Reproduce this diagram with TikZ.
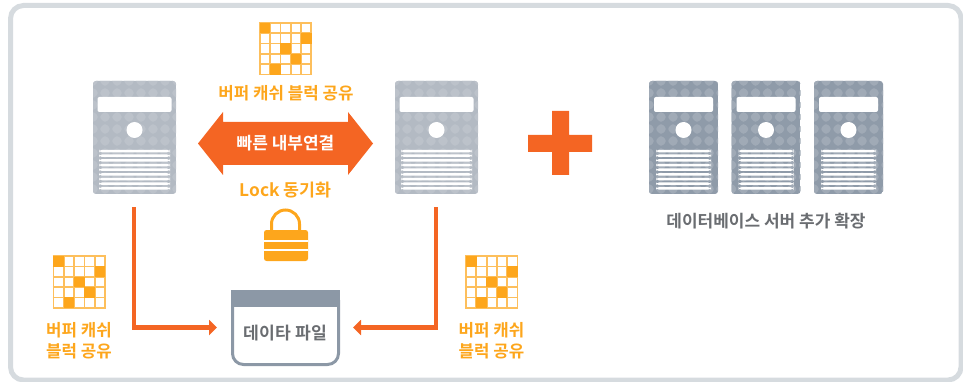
\documentclass[tikz,border=0pt]{standalone}
\usepackage{fontspec}
\setmainfont{Noto Sans CJK KR}[BoldFont={Noto Sans CJK KR Bold}]
\usetikzlibrary{calc,arrows.meta}
\definecolor{frameC}{HTML}{D6DBDF}
\definecolor{amberC}{HTML}{FDA61C}
\definecolor{amberL}{HTML}{FDBF5C}
\definecolor{orangeC}{HTML}{F46523}
\definecolor{slateC}{HTML}{8C98A6}
\definecolor{lightSrv}{HTML}{B3BAC3}
\definecolor{lightDia}{HTML}{BCC2CA}
\definecolor{darkSrv}{HTML}{8F9BA9}
\definecolor{darkDia}{HTML}{A0AAB6}
\definecolor{textC}{HTML}{6A6D71}
\newcommand{\srvpaint}[6]{% base, diamond, centre x, bar half, line half, columns
  \coordinate (pbNW) at (path picture bounding box.north west);
  \fill[#1] (path picture bounding box.south west) rectangle (path picture bounding box.north east);
  \foreach \i in {0,...,#6}{\foreach \j in {0,...,10}{
    \fill[#2] ($(pbNW)+(\i*12,\j*12)$) +(0,6) -- +(6,0) -- +(0,-6) -- +(-6,0) -- cycle;}}
  \coordinate (pc) at ($(pbNW)+(#3,0)$);
  \fill[white,rounded corners=2pt] ($(pc)+(-#4,16)$) rectangle ($(pc)+(#4,31)$);
  \fill[white] ($(pc)+(0,49)$) circle[radius=8];
  \foreach \k in {0,...,8}{\fill[white] ($(pc)+(-#5,68.8+\k*4.67)$) rectangle ($(pc)+(#5,71.3+\k*4.67)$);}
}
\tikzset{
  serverwide/.style={rounded corners=3pt,minimum width=83,minimum height=113,inner sep=0,outer sep=0,
    path picture={\srvpaint{lightSrv}{lightDia}{41.5}{37}{35.5}{7}}},
  servernarrow/.style={rounded corners=3pt,minimum width=69,minimum height=113,inner sep=0,outer sep=0,
    path picture={\srvpaint{darkSrv}{darkDia}{34.5}{29.5}{27.5}{6}}},
  amberlabel/.style={text=amberC,font=\bfseries\fontsize{16.8}{21}\selectfont,align=center,inner sep=0},
  greylabel/.style={text=textC,font=\bfseries\fontsize{17}{21}\selectfont,align=center,inner sep=0},
  link/.style={draw=orangeC,line width=4.2,-{Triangle[length=8,width=15]}},
}
\newcommand{\cachegrid}[1]{%
  \begin{scope}[shift={(#1)}]
    \foreach \i in {0,...,5}{
      \draw[amberL,line width=1.8] (\i*10.3,-0.9) -- (\i*10.3,52.4);
      \draw[amberL,line width=1.8] (-0.9,\i*10.3) -- (52.4,\i*10.3);}
    \foreach \c/\r in {0/0,4/1,2/2,3/3,1/4}{
      \fill[amberC] (\c*10.3-0.2,\r*10.3-0.2) rectangle ++(10.7,10.7);}
  \end{scope}}
\begin{document}
\begin{tikzpicture}[x=1pt,y=-1pt]
\useasboundingbox (0,0) rectangle (963,382);
\draw[frameC,line width=5,rounded corners=13pt] (10.5,5.5) rectangle (961,380);
% servers
\node[serverwide] (s1) at (134.5,137.5) {};
\node[serverwide] (s2) at (436.5,137.5) {};
\node[servernarrow] (s3) at (683.5,137.5) {};
\node[servernarrow] (s4) at (766,137.5) {};
\node[servernarrow] (s5) at (848.5,137.5) {};
% grids
\cachegrid{259.8,23}
\cachegrid{53.5,256.2}
\cachegrid{466,256.2}
% labels
\node[amberlabel] (t1) at (286,93) {버퍼 캐쉬 블럭 공유};
\node[amberlabel,font=\bfseries\fontsize{17.3}{21}\selectfont] (t2) at (285.5,190.5) {Lock 동기화};
\node[amberlabel] (t3) at (79,340.5) {버퍼 캐쉬\\블럭 공유};
\node[amberlabel] (t4) at (491.5,340.5) {버퍼 캐쉬\\블럭 공유};
\node[greylabel] (t5) at (766,221) {데이터베이스 서버 추가 확장};
% double arrow
\fill[orangeC] (198,143.5) -- (223,112) -- (223,122) -- (348,122) -- (348,112) -- (373,143.5) -- (348,175) -- (348,165) -- (223,165) -- (223,175) -- cycle;
\node[text=white,font=\bfseries\fontsize{17}{21}\selectfont,inner sep=0] (fast) at (285.5,143) {빠른 내부연결};
% plus
\fill[orangeC] (528,135) -- (552,135) -- (552,111) -- (569,111) -- (569,135) -- (592,135) -- (592,152) -- (569,152) -- (569,175) -- (552,175) -- (552,152) -- (528,152) -- cycle;
% lock
\draw[amberC,line width=3] (271.5,231) -- (271.5,224) arc[start angle=180,end angle=360,radius=14] -- (299.5,231);
\fill[amberC,rounded corners=2.5pt] (264,230) rectangle (308,261);
\fill[white] (264,239.5) rectangle (308,241.8);
\fill[white] (264,249) rectangle (308,251.3);
% data file
\draw[slateC,line width=3,rounded corners=11pt] (232.5,300) -- (232.5,364.5) -- (338.5,364.5) -- (338.5,300);
\fill[slateC] (231,290) rectangle (340,306.7);
\node[greylabel,font=\bfseries\fontsize{17.2}{21}\selectfont,minimum width=100,minimum height=40] (file) at (285.5,333) {데이타 파일};
% connectors
\coordinate (a1) at (134,207);
\coordinate (a2) at (436,207);
\coordinate (f1) at (217,327.5);
\coordinate (f2) at (353,327.5);
\draw[link] (a1) |- (f1);
\draw[link] (a2) |- (f2);
\end{tikzpicture}
\end{document}
